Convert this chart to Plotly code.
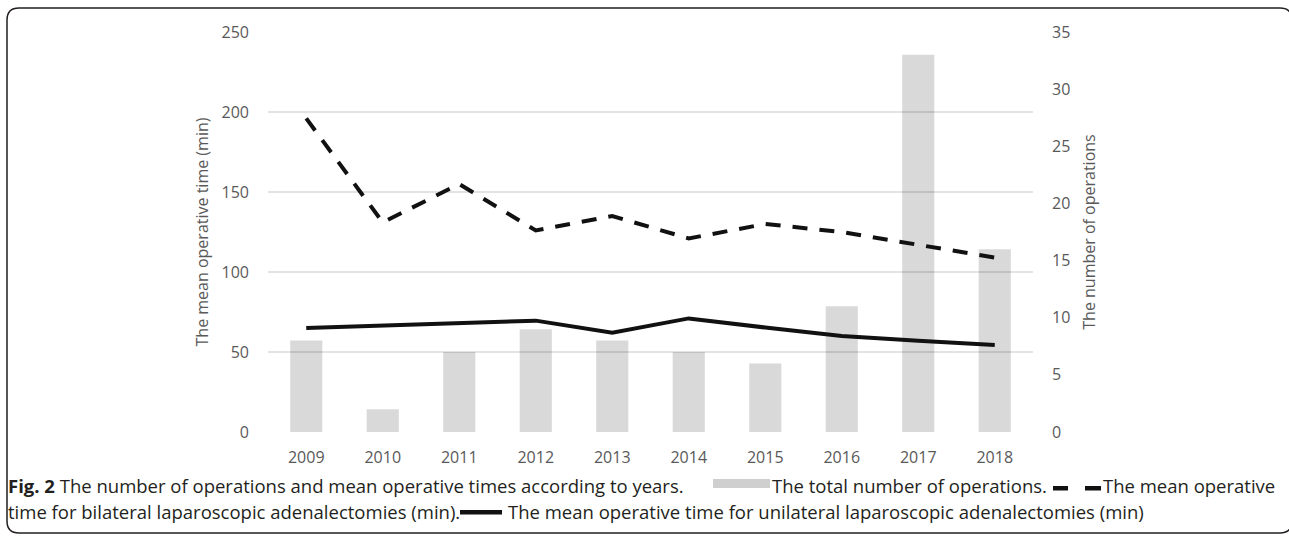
import plotly.graph_objects as go

# ---- data ----
years = ["2009", "2010", "2011", "2012", "2013", "2014", "2015", "2016", "2017", "2018"]
total_operations = [8, 2, 7, 9, 8, 7, 6, 11, 33, 16]
bilateral_time = [196, 131, 155, 126, 135, 121, 130, 125, 117, 109]
unilateral_time = [65, 66.6, 68.1, 69.6, 62, 71, 65.3, 60, 57, 54.4]

left_ticks = [0, 50, 100, 150, 200, 250]
right_ticks = [0, 5, 10, 15, 20, 25, 30, 35]

# ---- geometry ----
W, H = 1289, 536
ML, MR, MT, MB = 268, 256, 32, 104
PW = W - ML - MR
PH = H - MT - MB


def px(x):
    return (x - ML) / PW


def py(y):
    return (H - MB - y) / PH


TICK = dict(family="Open Sans", size=16, color="#595959")
CAP = dict(family="Open Sans", size=18.5, color="#231f20")

fig = go.Figure()
fig.add_trace(go.Bar(x=years, y=total_operations, yaxis="y",
                     marker=dict(color="rgba(0,0,0,0.15)", line=dict(width=0)),
                     name="The total number of operations"))
fig.add_trace(go.Scatter(x=years, y=bilateral_time, yaxis="y2", mode="lines",
                         line=dict(color="#111111", width=4, dash="15px,12px"),
                         name="bilateral"))
fig.add_trace(go.Scatter(x=years, y=unilateral_time, yaxis="y2", mode="lines",
                         line=dict(color="#111111", width=4),
                         name="unilateral"))

fig.update_layout(
    width=W, height=H,
    margin=dict(l=ML, r=MR, t=MT, b=MB, pad=0),
    paper_bgcolor="white", plot_bgcolor="white",
    showlegend=False, bargap=0.58,
    xaxis=dict(type="category", showgrid=False, showline=False, zeroline=False,
               tickfont=TICK, ticks="", ticklabelstandoff=14),
    yaxis=dict(range=[0, 35], side="right", tickvals=right_ticks, showgrid=False,
               zeroline=False, showline=False, ticks="", tickfont=TICK,
               ticklabelstandoff=18,
               title=dict(text="The number of operations", font=TICK, standoff=14)),
    yaxis2=dict(range=[0, 250], side="left", overlaying="y", tickvals=left_ticks,
                showgrid=True, gridcolor="#e3e3e3", gridwidth=1.5, zeroline=False,
                showline=False, ticks="", tickfont=TICK, ticklabelstandoff=18,
                title=dict(text="The mean operative time (min)", font=TICK, standoff=8)),
)

# caption
y1, y2 = 485, 511
anns = [
    ("<b>Fig. 2</b> The number of operations and mean operative times according to years.", 7, y1),
    ("The total number of operations.", 771, y1),
    ("The mean operative", 1102, y1),
    ("time for bilateral laparoscopic adenalectomies (min).", 7, y2),
    ("The mean operative time for unilateral laparoscopic adenalectomies (min)", 507, y2),
]
for t, x, y in anns:
    fig.add_annotation(text=t, xref="paper", yref="paper", x=px(x), y=py(y),
                       xanchor="left", yanchor="middle", showarrow=False,
                       font=CAP, borderpad=0)

shapes = [
    dict(x0=713, x1=770, y0=479, y1=488, fillcolor="#cfcfcf"),
    dict(x0=1053, x1=1068, y0=y1 + 1, y1=y1 + 5.5, fillcolor="#111111"),
    dict(x0=1085, x1=1101, y0=y1 + 1, y1=y1 + 5.5, fillcolor="#111111"),
    dict(x0=460, x1=502, y0=y2 - 1, y1=y2 + 3.5, fillcolor="#111111"),
]
for s in shapes:
    fig.add_shape(type="rect", xref="paper", yref="paper",
                  x0=px(s["x0"]), x1=px(s["x1"]), y0=py(s["y1"]), y1=py(s["y0"]),
                  fillcolor=s["fillcolor"], line=dict(width=0), layer="above")

# rounded frame
L, T, R, B, r = 7, 8, 1292, 533, 12
path = (f"M {px(L + r)},{py(T)} L {px(R - r)},{py(T)} Q {px(R)},{py(T)} {px(R)},{py(T + r)} "
        f"L {px(R)},{py(B - r)} Q {px(R)},{py(B)} {px(R - r)},{py(B)} "
        f"L {px(L + r)},{py(B)} Q {px(L)},{py(B)} {px(L)},{py(B - r)} "
        f"L {px(L)},{py(T + r)} Q {px(L)},{py(T)} {px(L + r)},{py(T)} Z")
fig.add_shape(type="path", xref="paper", yref="paper", path=path,
              line=dict(color="#231f20", width=1.5), layer="above")

fig.write_html("out.html")
